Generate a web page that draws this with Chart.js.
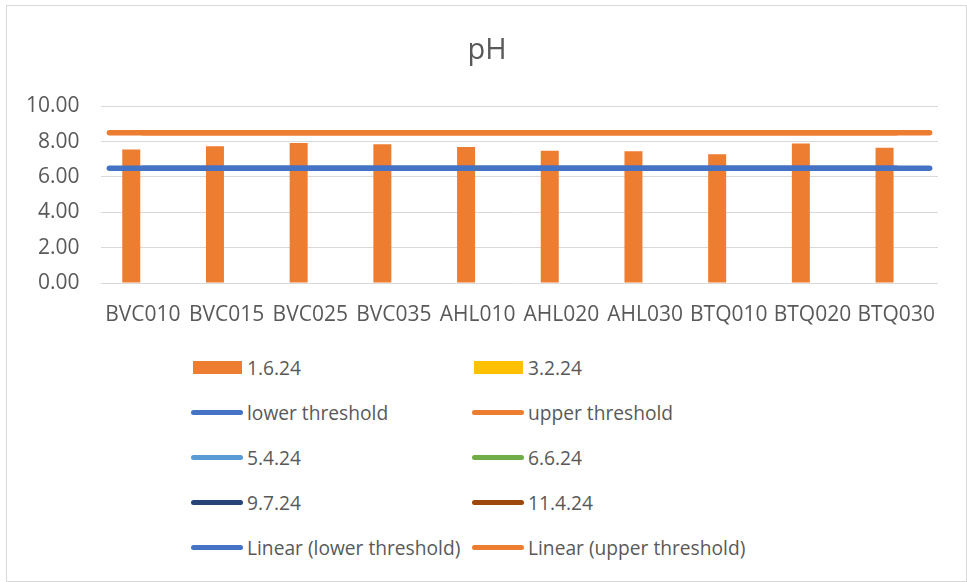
<!DOCTYPE html>
<html>
<head>
<meta charset="utf-8">
<script src="https://cdn.jsdelivr.net/npm/chart.js@4.4.1/dist/chart.umd.min.js"></script>
<style>
  body { margin: 0; background: #fff; font-family: "Open Sans", sans-serif; }
  #wrap { position: relative; width: 967px; height: 582px; }
  #frame { position: absolute; left: 6px; top: 5px; width: 961px; height: 577px;
           box-sizing: border-box; border: 1.5px solid #d9d9d9; }
  #phchart { position: absolute; left: 0; top: 0; }
  #legend { position: absolute; left: 191px; top: 345px;
            display: grid; grid-template-columns: 281px 281px; grid-auto-rows: 45px; }
  .item { display: flex; align-items: center; font-size: 19.2px; color: #595959; white-space: nowrap; }
  .sym-line { width: 52px; height: 4.5px; border-radius: 3px; margin-right: 4px; }
  .sym-bar { width: 49px; height: 13px; margin-left: 2px; margin-right: 5px; }
</style>
</head>
<body>
<div id="wrap">
  <div id="frame"></div>
  <canvas id="phchart" width="967" height="340"></canvas>
  <div id="legend"></div>
</div>
<script>
/* pH chart data */
var sites = ['BVC010', 'BVC015', 'BVC025', 'BVC035', 'AHL010', 'AHL020', 'AHL030', 'BTQ010', 'BTQ020', 'BTQ030'];
var ph_1_6_24 = [7.55, 7.74, 7.92, 7.85, 7.70, 7.48, 7.46, 7.29, 7.89, 7.65];
var ph_3_2_24 = [null, null, null, null, null, null, null, null, null, null];
var lowerThreshold = [6.5, 6.5, 6.5, 6.5, 6.5, 6.5, 6.5, 6.5, 6.5, 6.5];
var upperThreshold = [8.5, 8.5, 8.5, 8.5, 8.5, 8.5, 8.5, 8.5, 8.5, 8.5];
var yTicks = [0, 2, 4, 6, 8, 10];

var textColor = '#595959';

// one x axis only (index of the site), labels come from sites[]
function pts(values) {
  return values.map(function (v, i) { return {x: i, y: v}; });
}

// linear trendline (least squares), stretched a bit past first/last point
function trend(values, ext) {
  var n = values.length, sx = 0, sy = 0, sxy = 0, sxx = 0;
  for (var i = 0; i < n; i++) { sx += i; sy += values[i]; sxy += i * values[i]; sxx += i * i; }
  var m = (n * sxy - sx * sy) / (n * sxx - sx * sx);
  var b = (sy - m * sx) / n;
  var x0 = -ext, x1 = n - 1 + ext;
  return [{x: x0, y: m * x0 + b}, {x: x1, y: m * x1 + b}];
}

function lineSet(label, data, color) {
  return {
    type: 'line', label: label, data: data,
    borderColor: color, backgroundColor: color,
    borderWidth: 5.5, borderCapStyle: 'round',
    pointRadius: 0, fill: false, order: 1
  };
}

var ctx = document.getElementById('phchart').getContext('2d');
var phchart = new Chart(ctx, {
  data: {
    datasets: [
      { type: 'bar', label: '1.6.24', data: pts(ph_1_6_24), backgroundColor: '#ED7D31', order: 2,
        categoryPercentage: 0.554, barPercentage: 0.776 },
      { type: 'bar', label: '3.2.24', data: pts(ph_3_2_24), backgroundColor: '#FFC000', order: 2,
        categoryPercentage: 0.554, barPercentage: 0.776 },
      lineSet('lower threshold', pts(lowerThreshold), '#4472C4'),
      lineSet('upper threshold', pts(upperThreshold), '#ED7D31'),
      lineSet('5.4.24', [], '#5B9BD5'),
      lineSet('6.6.24', [], '#70AD47'),
      lineSet('9.7.24', [], '#264478'),
      lineSet('11.4.24', [], '#9E480E'),
      lineSet('Linear (lower threshold)', trend(lowerThreshold, 0.4), '#4472C4'),
      lineSet('Linear (upper threshold)', trend(upperThreshold, 0.4), '#ED7D31')
    ]
  },
  options: {
    responsive: false,
    animation: false,
    layout: { padding: { top: 0, right: 29, bottom: 0, left: 36 } },
    plugins: {
      legend: { display: false },
      tooltip: { enabled: false },
      title: {
        display: true, text: 'pH', color: textColor,
        font: { family: 'Open Sans', size: 29, weight: 'normal' },
        padding: { top: 33, bottom: 38.5 }
      }
    },
    scales: {
      x: {
        type: 'linear', min: -0.5, max: sites.length - 0.5, offset: false,
        afterBuildTicks: function (scale) { scale.ticks = sites.map(function (s, i) { return {value: i}; }); },
        grid: { display: false, drawTicks: false, offset: false },
        border: { display: false },
        ticks: { color: textColor, font: { family: 'Open Sans', size: 21 }, padding: 19,
                 maxRotation: 0, autoSkip: false,
                 callback: function (v) { return sites[v]; } },
        afterFit: function (scale) { scale.height = 57; }
      },
      y: {
        min: yTicks[0], max: yTicks[yTicks.length - 1],
        afterBuildTicks: function (scale) { scale.ticks = yTicks.map(function (v) { return {value: v}; }); },
        grid: { color: '#d9d9d9', lineWidth: 1, drawTicks: false },
        border: { display: false },
        // mirrored + negative padding so the labels are not clipped to the narrow axis box
        ticks: { color: textColor, font: { family: 'Open Sans', size: 21 }, mirror: true, crossAlign: 'far',
                 padding: -75, callback: function (v) { return Number(v).toFixed(2); } },
        afterFit: function (scale) { scale.width = 65; }
      }
    }
  }
});

// legend in two columns, like the original
var legend = document.getElementById('legend');
phchart.data.datasets.forEach(function (ds) {
  var item = document.createElement('div');
  item.className = 'item';
  var sym = document.createElement('span');
  sym.className = ds.type === 'bar' ? 'sym-bar' : 'sym-line';
  sym.style.background = ds.backgroundColor;
  item.appendChild(sym);
  item.appendChild(document.createTextNode(ds.label));
  legend.appendChild(item);
});
</script>
</body>
</html>
